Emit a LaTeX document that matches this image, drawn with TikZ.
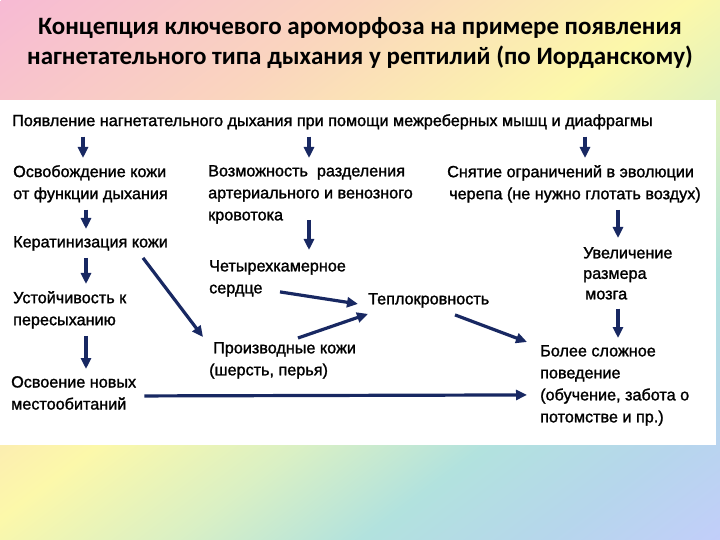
\documentclass[tikz,border=0pt]{standalone}
\usepackage{fontspec}
\setmainfont{Liberation Sans}
\newfontfamily\txtfont{Liberation Sans}[FakeBold=1.4]
\newfontfamily\ttlfont{Carlito}[BoldFont={Carlito Bold}]
\usepackage{xcolor}
\usepackage{tikz}
\usetikzlibrary{arrows.meta,positioning,calc}

\definecolor{arrowblue}{RGB}{24,40,98}
\definecolor{bgpink}{RGB}{247,186,212}
\definecolor{bgpeach}{RGB}{250,213,190}
\definecolor{bgyellow}{RGB}{252,248,170}
\definecolor{bggreen}{RGB}{218,240,196}
\definecolor{bgteal}{RGB}{178,226,222}
\definecolor{bgsky}{RGB}{182,214,236}
\definecolor{bglav}{RGB}{194,206,250}

\pgfdeclarehorizontalshading{rainbowbg}{100bp}{color(0bp)=(bgpink); color(25bp)=(bgpeach);
 color(48bp)=(bgyellow); color(62bp)=(bggreen); color(75bp)=(bgteal); color(88bp)=(bgsky);
 color(100bp)=(bglav)}

\begin{document}
\begin{tikzpicture}[x=1bp,y=-1bp,
 t/.style={anchor=north west,align=left,inner sep=0pt,
  font=\txtfont\fontsize{16.2bp}{22bp}\selectfont},
 ttl/.style={align=center,inner sep=0pt,font=\ttlfont\bfseries\fontsize{25bp}{30bp}\selectfont},
 e/.style={-{Triangle[width=10bp,length=11bp]},line width=3.2bp,draw=arrowblue,
  shorten <=7bp,shorten >=7bp}]
\useasboundingbox (0,0) rectangle (720,540);
% background
\begin{scope}
\clip (0,0) rectangle (720,540);
\pgftransformcm{7.2}{-5.4}{7.2}{5.4}{\pgfpoint{360bp}{-270bp}}
\pgflowlevelsynccm
\pgfuseshading{rainbowbg}
\end{scope}
\fill[white] (0,100) rectangle (716,445);

\node[ttl] (title) at (360,43) {Концепция ключевого ароморфоза на примере появления\\
 нагнетательного типа дыхания у рептилий (по Иорданскому)};

% nodes
\node[t] (top) at (12,114) {Появление нагнетательного дыхания при помощи межреберных мышц и диафрагмы};
\node[t] (osv) at (13,165) {Освобождение кожи\\от функции дыхания};
\node[t] (vozm) at (208,165) {Возможность\ \ разделения\\артериального и венозного\\кровотока};
\node[t] (snyat) at (447,165) {Снятие ограничений в эволюции\\\hspace{2bp}черепа (не нужно глотать воздух)};
\node[t] (kerat) at (13,236) {Кератинизация кожи};
\node[t] (chetyr) at (209,260) {Четырехкамерное\\сердце};
\node[t] (uvel) at (583,247) {Увеличение\\[-1.5bp]размера\\[-1.5bp]\hspace{2bp}мозга};
\node[t] (tepl) at (368,293) {Теплокровность};
\node[t] (ustoich) at (13,291) {Устойчивость к\\пересыханию};
\node[t] (proizv) at (209,342) {\hspace{4bp}Производные кожи\\(шерсть, перья)};
\node[t] (osvoen) at (11,376) {Освоение новых\\местообитаний};
\node[t] (bolee) at (540,345) {Более сложное\\поведение\\(обучение, забота о\\потомстве и пр.)};

% arrows
\draw[e] (top.south -| 83,0) -- (osv.north -| 83,0);
\draw[e] (top.south -| 309,0) -- (vozm.north -| 309,0);
\draw[e] (top.south -| 585,0) -- (snyat.north -| 585,0);
\draw[e] (osv.south -| 86,0) -- (kerat.north -| 86,0);
\draw[e] (kerat.south -| 86,0) -- (ustoich.north -| 86,0);
\draw[e] (ustoich.south -| 86,0) -- (osvoen.north -| 86,0);
\draw[e,shorten <=-4bp,shorten >=10bp] (vozm.south -| 309,0) -- (chetyr.north -| 309,0);
\draw[e,shorten >=9bp] (snyat.south -| 618,0) -- (uvel.north -| 618,0);
\draw[e,shorten <=9bp] (uvel.south -| 618,0) -- (bolee.north -| 618,0);
\draw[e,shorten <=0bp,shorten >=0bp] ($(kerat.south east)+(-25,7)$) -- ($(proizv.north west)+(-6,-5)$);
\draw[e,shorten <=0bp,shorten >=0bp] ($(chetyr.south west)+(71,-5)$) -- ($(tepl.west)+(-10,3.5)$);
\draw[e,shorten <=0bp,shorten >=0bp] ($(proizv.north west)+(89,-4)$) -- ($(tepl.south west)+(0,6)$);
\draw[e,shorten <=0bp,shorten >=0bp] ($(tepl.south west)+(87,7)$) -- ($(bolee.north west)+(-13,-3)$);
\draw[e,shorten <=0bp,shorten >=0bp] ($(osvoen.east)+(8,3)$) -- ($(bolee.west |- osvoen.east)+(-13,2)$);
\end{tikzpicture}
\end{document}
